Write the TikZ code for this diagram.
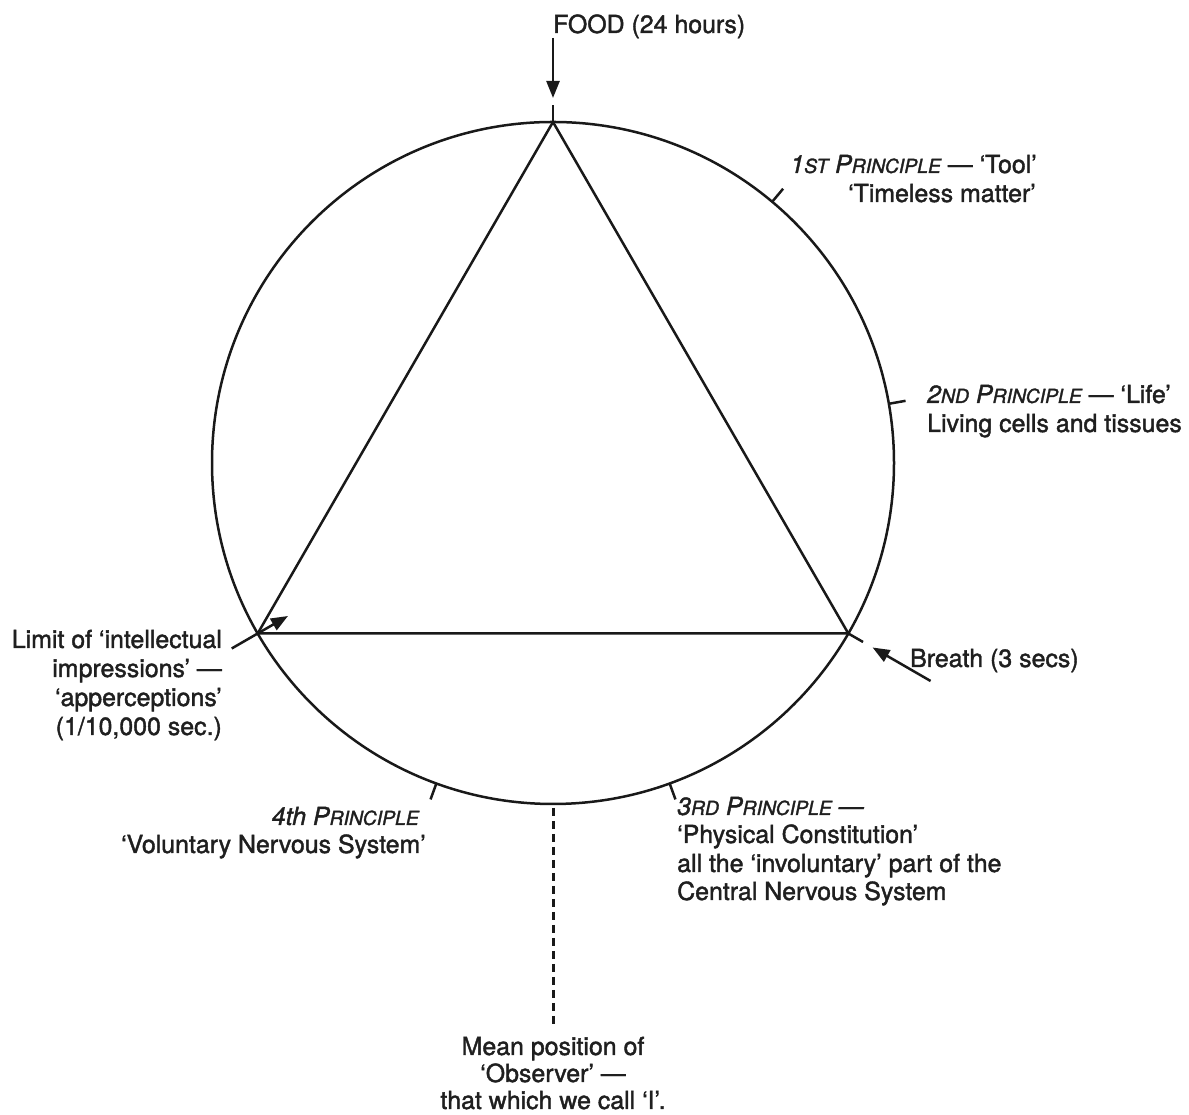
\documentclass[tikz,border=0pt]{standalone}
\usepackage{fontspec}
\setmainfont{TeX Gyre Heros}[FakeBold=1.6]
\usetikzlibrary{arrows.meta,calc}
\newcommand\fsc[1]{{\fontsize{19.4}{19.4}\selectfont #1}}
\begin{document}
\begin{tikzpicture}[x=1pt,y=1pt,
  lbl/.style={inner sep=0pt, text=black!88, font=\fontsize{24.9}{29}\selectfont},
  ring/.style={line width=2.5pt, black!90},
  tickline/.style={line width=2.5pt, black!90},
  arr/.style={line width=2.5pt, black!90, -{Triangle[length=17pt,width=13pt]}},
  dotline/.style={line width=3pt, black!90, dash pattern=on 8pt off 5pt}]
\useasboundingbox (0,0) rectangle (1189,1115);
\coordinate (C) at (553,652);
\draw[ring] (C) circle[radius=341pt];
\coordinate (T) at ($(C)+(90:341)$);
\coordinate (L) at ($(C)+(210:341)$);
\coordinate (Rv) at ($(C)+(-30:341)$);
\draw[ring, line join=miter] (T) -- (L) -- (Rv) -- cycle;
% ticks
\foreach \a/\n in {90/t0,50/t1,10/t2,-30/t3,-70/t4,-110/t5}{
  \coordinate (\n a) at ($(C)+(\a:341)$);
  \coordinate (\n b) at ($(C)+(\a:358)$);
  \draw[tickline] (\n a) -- (\n b);
}
% arrows
\coordinate (fa) at ($(C)+(90:425)$);
\coordinate (fb) at ($(C)+(90:365)$);
\draw[arr] (fa) -- (fb);
\coordinate (la) at ($(C)+(210:371)$);
\coordinate (lb) at ($(C)+(210:306)$);
\draw[arr] (la) -- (lb);
\coordinate (ba) at ($(C)+(-30:436)$);
\coordinate (bb) at ($(C)+(-30:369)$);
\draw[arr] (ba) -- (bb);
% dotted observer line
\coordinate (oa) at (553,307);
\coordinate (ob) at (553,90);
\draw[dotline] (oa) -- (ob);
% labels
\node[lbl, anchor=base west] (food) at (553,1082) {FOOD (24 hours)};
\node[lbl, anchor=base east] (p1a) at (1037,942) {{\itshape 1\fsc{ST} P\fsc{RINCIPLE}} — ‘Tool’};
\node[lbl, anchor=base east] (p1b) at (1036,913) {‘Timeless matter’};
\node[lbl, anchor=base west] (p2a) at (927,712) {{\itshape 2\fsc{ND} P\fsc{RINCIPLE}} — ‘Life’};
\node[lbl, anchor=base west] (p2b) at (927,683) {Living cells and tissues};
\node[lbl, anchor=base west] (br) at (910,448) {Breath (3 secs)};
\node[lbl, anchor=base east] (li1) at (222,467) {Limit of ‘intellectual};
\node[lbl, anchor=base east] (li2) at (222,438) {impressions’ —};
\node[lbl, anchor=base east] (li3) at (222,409) {‘apperceptions’};
\node[lbl, anchor=base east] (li4) at (222,380) {(1/10,000 sec.)};
\node[lbl, anchor=base east] (p4a) at (419,290) {\itshape 4th P\fsc{RINCIPLE}};
\node[lbl, anchor=base east] (p4b) at (426,262) {‘Voluntary Nervous System’};
\node[lbl, anchor=base west] (p3a) at (677,300) {\itshape 3\fsc{RD} P\fsc{RINCIPLE} —};
\node[lbl, anchor=base west] (p3b) at (677,272) {‘Physical Constitution’};
\node[lbl, anchor=base west] (p3c) at (677,243) {all the ‘involuntary’ part of the};
\node[lbl, anchor=base west] (p3d) at (677,215) {Central Nervous System};
\node[lbl, anchor=base] (m1) at (553,60) {Mean position of};
\node[lbl, anchor=base] (m2) at (553,33) {‘Observer’ —};
\node[lbl, anchor=base] (m3) at (553,6) {that which we call ‘I’.};
\end{tikzpicture}
\end{document}
